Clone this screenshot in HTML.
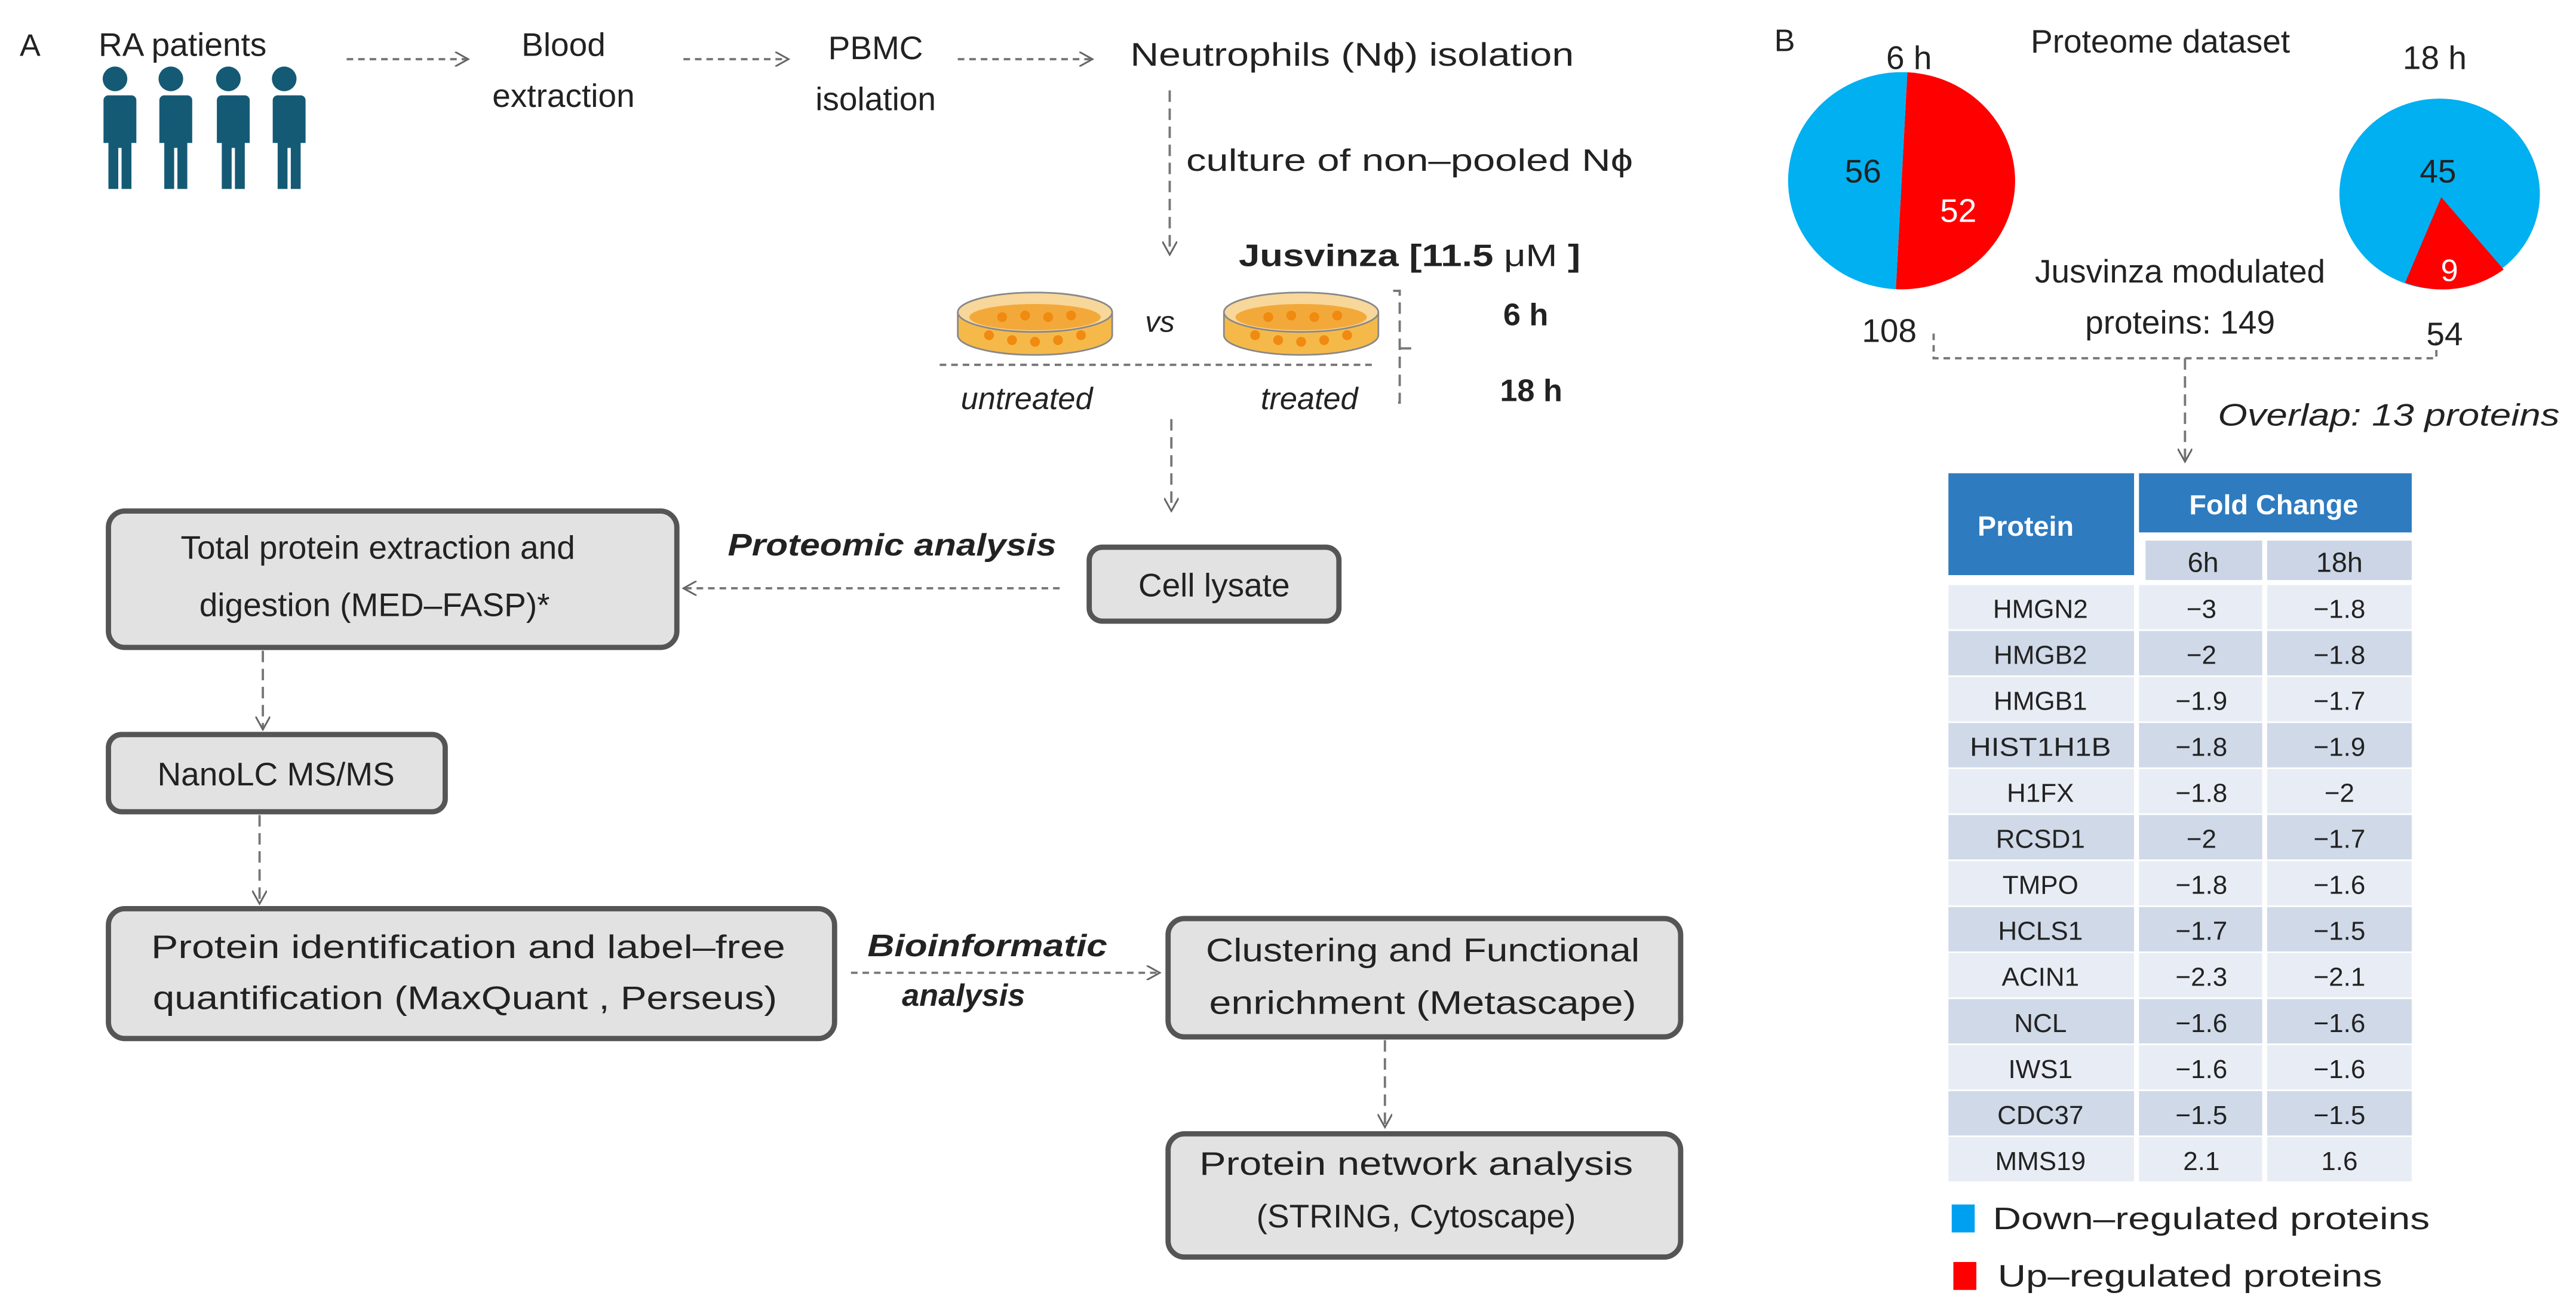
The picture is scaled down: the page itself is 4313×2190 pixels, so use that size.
<!DOCTYPE html>
<html><head><meta charset="utf-8"><style>
html,body{margin:0;padding:0;background:#fff;}
svg{display:block;}
text{font-family:"Liberation Sans",sans-serif;fill:#222;}
</style></head><body>
<svg width="4313" height="2190" viewBox="0 0 1568 796" preserveAspectRatio="none" xmlns="http://www.w3.org/2000/svg">
<defs>
<marker id="ar" viewBox="0 0 10 10" refX="9" refY="5" markerWidth="9" markerHeight="9" orient="auto" markerUnits="userSpaceOnUse">
<path d="M0,0 L9,5 L0,10" fill="none" stroke="#666" stroke-width="1.2"/></marker>
<g id="man"><circle cx="0" cy="-52" r="7.5" fill="#155a75"/><path d="M-10,-42 h20 a3,3 0 0 1 3,3 v26 h-3 v28 h-6 v-25 h-2 v25 h-6 v-28 h-3 v-26 a3,3 0 0 1 3,-3z" fill="#155a75"/></g>
<g id="dish">
<ellipse cx="0" cy="14" rx="47" ry="12" fill="#f5b94a" stroke="#888" stroke-width="1"/>
<rect x="-47" y="0" width="94" height="14" fill="#f5b94a"/>
<line x1="-47" y1="0" x2="-47" y2="14" stroke="#888"/><line x1="47" y1="0" x2="47" y2="14" stroke="#888"/>
<ellipse cx="0" cy="0" rx="47" ry="12" fill="#f8d79a" stroke="#888" stroke-width="1"/>
<ellipse cx="0" cy="3" rx="40" ry="8" fill="#f3a93a"/>
<g fill="#f08a10"><circle cx="-28" cy="14" r="3"/><circle cx="-14" cy="17" r="3"/><circle cx="0" cy="18" r="3"/><circle cx="14" cy="17" r="3"/><circle cx="28" cy="14" r="3"/><circle cx="-20" cy="3" r="3"/><circle cx="-6" cy="2" r="3"/><circle cx="8" cy="3" r="3"/><circle cx="22" cy="2" r="3"/></g>
</g>
</defs>

<text x="12" y="34" font-size="19">A</text>
<text x="60" y="34" font-size="20">RA patients</text>
<use href="#man" x="70" y="100"/><use href="#man" x="104" y="100"/><use href="#man" x="139" y="100"/><use href="#man" x="173" y="100"/>

<g stroke="#777" stroke-width="1.4" stroke-dasharray="4,3" fill="none">
<line x1="211" y1="36" x2="285" y2="36" marker-end="url(#ar)"/>
<line x1="416" y1="36" x2="480" y2="36" marker-end="url(#ar)"/>
<line x1="583" y1="36" x2="665" y2="36" marker-end="url(#ar)"/>
<line x1="712" y1="55" x2="712" y2="155" marker-end="url(#ar)" stroke-dasharray="7,4"/>
<line x1="572" y1="222" x2="836" y2="222" stroke-dasharray="4,3"/>
<path d="M848,177 h4 v68 h-4 M852,212 h8" stroke-dasharray="7,4"/>
<line x1="713" y1="255" x2="713" y2="311" marker-end="url(#ar)" stroke-dasharray="7,4"/>
<line x1="645" y1="358" x2="416" y2="358" marker-end="url(#ar)"/>
<line x1="160" y1="396" x2="160" y2="444" marker-end="url(#ar)" stroke-dasharray="7,4"/>
<line x1="158" y1="496" x2="158" y2="550" marker-end="url(#ar)" stroke-dasharray="7,4"/>
<line x1="518" y1="592" x2="706" y2="592" marker-end="url(#ar)"/>
<line x1="843" y1="633" x2="843" y2="686" marker-end="url(#ar)" stroke-dasharray="7,4"/>
<path d="M1177,203 v15 h306 v-10"/>
<line x1="1330" y1="218" x2="1330" y2="281" marker-end="url(#ar)" stroke-dasharray="7,4"/>
</g>

<text x="343" y="34" font-size="20" text-anchor="middle">Blood</text>
<text x="343" y="65" font-size="20" text-anchor="middle">extraction</text>
<text x="533" y="36" font-size="20" text-anchor="middle">PBMC</text>
<text x="533" y="67" font-size="20" text-anchor="middle">isolation</text>
<text x="688" y="40" font-size="20" textLength="270" lengthAdjust="spacingAndGlyphs">Neutrophils (Nϕ) isolation</text>
<text x="722" y="104" font-size="19" textLength="272" lengthAdjust="spacingAndGlyphs">culture of non–pooled  Nϕ</text>
<text x="754" y="162" font-size="19" font-weight="bold" textLength="208" lengthAdjust="spacingAndGlyphs">Jusvinza [11.5 <tspan font-weight="normal">μM</tspan> ]</text>

<use href="#dish" x="630" y="190"/>
<use href="#dish" x="792" y="190"/>
<text x="706" y="202" font-size="18" font-style="italic" text-anchor="middle">vs</text>
<text x="625" y="249" font-size="19" font-style="italic" text-anchor="middle">untreated</text>
<text x="797" y="249" font-size="19" font-style="italic" text-anchor="middle">treated</text>
<text x="915" y="198" font-size="19" font-weight="bold">6 h</text>
<text x="913" y="244" font-size="19" font-weight="bold">18 h</text>

<g fill="#e2e2e2" stroke="#555" stroke-width="3.2">
<rect x="66" y="311" width="346" height="83" rx="10"/>
<rect x="663" y="333" width="152" height="45" rx="8"/>
<rect x="66" y="447" width="205" height="47" rx="8"/>
<rect x="66" y="553" width="442" height="79" rx="10"/>
<rect x="711" y="559" width="312" height="72" rx="10"/>
<rect x="711" y="690" width="312" height="75" rx="10"/>
</g>
<text x="230" y="340" font-size="20" text-anchor="middle">Total protein extraction and</text>
<text x="228" y="375" font-size="20" text-anchor="middle">digestion  (MED–FASP)*</text>
<text x="443" y="338" font-size="19" font-weight="bold" font-style="italic" textLength="200" lengthAdjust="spacingAndGlyphs">Proteomic analysis</text>
<text x="739" y="363" font-size="20" text-anchor="middle">Cell lysate</text>
<text x="168" y="478" font-size="20" text-anchor="middle">NanoLC MS/MS</text>
<text x="285" y="583" font-size="20" text-anchor="middle" textLength="386" lengthAdjust="spacingAndGlyphs">Protein identification and  label–free</text>
<text x="283" y="614" font-size="20" text-anchor="middle" textLength="380" lengthAdjust="spacingAndGlyphs">quantification (MaxQuant , Perseus)</text>
<text x="528" y="582" font-size="19" font-weight="bold" font-style="italic" textLength="146" lengthAdjust="spacingAndGlyphs">Bioinformatic</text>
<text x="549" y="612" font-size="19" font-weight="bold" font-style="italic">analysis</text>
<text x="866" y="585" font-size="20" text-anchor="middle" textLength="264" lengthAdjust="spacingAndGlyphs">Clustering and Functional</text>
<text x="866" y="617" font-size="20" text-anchor="middle" textLength="260" lengthAdjust="spacingAndGlyphs">enrichment  (Metascape)</text>
<text x="862" y="715" font-size="20" text-anchor="middle" textLength="264" lengthAdjust="spacingAndGlyphs">Protein network analysis</text>
<text x="862" y="747" font-size="20" text-anchor="middle">(STRING, Cytoscape)</text>

<text x="1080" y="31" font-size="19">B</text>
<text x="1315" y="32" font-size="20" text-anchor="middle">Proteome  dataset</text>
<text x="1162" y="42" font-size="20" text-anchor="middle">6 h</text>
<text x="1482" y="42" font-size="20" text-anchor="middle">18 h</text>

<path d="M1161,44 A69,66 0 1 1 1154,176 Z" fill="#ff0000"/>
<path d="M1161,44 L1154,176 A69,66 0 1 1 1161,44 Z" fill="#00b0f0"/>
<text x="1134" y="111" font-size="20" text-anchor="middle">56</text>
<text x="1192" y="135" font-size="20" text-anchor="middle" style="fill:#fff">52</text>

<ellipse cx="1485" cy="118" rx="61" ry="58" fill="#00b0f0"/>
<path d="M1486,120 L1464,172 A61,58 0 0 0 1524,164 Z" fill="#ff0000"/>
<text x="1484" y="111" font-size="20" text-anchor="middle">45</text>
<text x="1491" y="171" font-size="19" text-anchor="middle" style="fill:#fff">9</text>

<text x="1327" y="172" font-size="20" text-anchor="middle">Jusvinza  modulated</text>
<text x="1327" y="203" font-size="20" text-anchor="middle">proteins: 149</text>
<text x="1150" y="208" font-size="20" text-anchor="middle">108</text>
<text x="1488" y="210" font-size="20" text-anchor="middle">54</text>
<text x="1350" y="259" font-size="19" font-style="italic" textLength="208" lengthAdjust="spacingAndGlyphs">Overlap: 13 proteins</text>

<rect x="1186" y="288" width="113" height="62" fill="#2e7bbf"/>
<rect x="1302" y="288" width="166" height="36" fill="#2e7bbf"/>
<rect x="1306" y="329" width="71" height="24" fill="#cbd5e6"/>
<rect x="1380" y="329" width="88" height="24" fill="#cbd5e6"/>
<text x="1233" y="326" font-size="17" font-weight="bold" text-anchor="middle" style="fill:#fff">Protein</text>
<text x="1384" y="313" font-size="17" font-weight="bold" text-anchor="middle" style="fill:#fff">Fold Change</text>
<text x="1341" y="348" font-size="17" text-anchor="middle">6h</text>
<text x="1424" y="348" font-size="17" text-anchor="middle">18h</text>
<g>
<rect x="1186" y="356" width="113" height="27" fill="#e8edf5"/><rect x="1302" y="356" width="75" height="27" fill="#e8edf5"/><rect x="1380" y="356" width="88" height="27" fill="#e8edf5"/>
<rect x="1186" y="384" width="113" height="27" fill="#cfd9e8"/><rect x="1302" y="384" width="75" height="27" fill="#cfd9e8"/><rect x="1380" y="384" width="88" height="27" fill="#cfd9e8"/>
<rect x="1186" y="412" width="113" height="27" fill="#e8edf5"/><rect x="1302" y="412" width="75" height="27" fill="#e8edf5"/><rect x="1380" y="412" width="88" height="27" fill="#e8edf5"/>
<rect x="1186" y="440" width="113" height="27" fill="#cfd9e8"/><rect x="1302" y="440" width="75" height="27" fill="#cfd9e8"/><rect x="1380" y="440" width="88" height="27" fill="#cfd9e8"/>
<rect x="1186" y="468" width="113" height="27" fill="#e8edf5"/><rect x="1302" y="468" width="75" height="27" fill="#e8edf5"/><rect x="1380" y="468" width="88" height="27" fill="#e8edf5"/>
<rect x="1186" y="496" width="113" height="27" fill="#cfd9e8"/><rect x="1302" y="496" width="75" height="27" fill="#cfd9e8"/><rect x="1380" y="496" width="88" height="27" fill="#cfd9e8"/>
<rect x="1186" y="524" width="113" height="27" fill="#e8edf5"/><rect x="1302" y="524" width="75" height="27" fill="#e8edf5"/><rect x="1380" y="524" width="88" height="27" fill="#e8edf5"/>
<rect x="1186" y="552" width="113" height="27" fill="#cfd9e8"/><rect x="1302" y="552" width="75" height="27" fill="#cfd9e8"/><rect x="1380" y="552" width="88" height="27" fill="#cfd9e8"/>
<rect x="1186" y="580" width="113" height="27" fill="#e8edf5"/><rect x="1302" y="580" width="75" height="27" fill="#e8edf5"/><rect x="1380" y="580" width="88" height="27" fill="#e8edf5"/>
<rect x="1186" y="608" width="113" height="27" fill="#cfd9e8"/><rect x="1302" y="608" width="75" height="27" fill="#cfd9e8"/><rect x="1380" y="608" width="88" height="27" fill="#cfd9e8"/>
<rect x="1186" y="636" width="113" height="27" fill="#e8edf5"/><rect x="1302" y="636" width="75" height="27" fill="#e8edf5"/><rect x="1380" y="636" width="88" height="27" fill="#e8edf5"/>
<rect x="1186" y="664" width="113" height="27" fill="#cfd9e8"/><rect x="1302" y="664" width="75" height="27" fill="#cfd9e8"/><rect x="1380" y="664" width="88" height="27" fill="#cfd9e8"/>
<rect x="1186" y="692" width="113" height="27" fill="#e8edf5"/><rect x="1302" y="692" width="75" height="27" fill="#e8edf5"/><rect x="1380" y="692" width="88" height="27" fill="#e8edf5"/>
</g>
<g font-size="16" text-anchor="middle">
<text x="1242" y="376">HMGN2</text><text x="1340" y="376">−3</text><text x="1424" y="376">−1.8</text>
<text x="1242" y="404">HMGB2</text><text x="1340" y="404">−2</text><text x="1424" y="404">−1.8</text>
<text x="1242" y="432">HMGB1</text><text x="1340" y="432">−1.9</text><text x="1424" y="432">−1.7</text>
<text x="1242" y="460" textLength="86" lengthAdjust="spacingAndGlyphs">HIST1H1B</text><text x="1340" y="460">−1.8</text><text x="1424" y="460">−1.9</text>
<text x="1242" y="488">H1FX</text><text x="1340" y="488">−1.8</text><text x="1424" y="488">−2</text>
<text x="1242" y="516">RCSD1</text><text x="1340" y="516">−2</text><text x="1424" y="516">−1.7</text>
<text x="1242" y="544">TMPO</text><text x="1340" y="544">−1.8</text><text x="1424" y="544">−1.6</text>
<text x="1242" y="572">HCLS1</text><text x="1340" y="572">−1.7</text><text x="1424" y="572">−1.5</text>
<text x="1242" y="600">ACIN1</text><text x="1340" y="600">−2.3</text><text x="1424" y="600">−2.1</text>
<text x="1242" y="628">NCL</text><text x="1340" y="628">−1.6</text><text x="1424" y="628">−1.6</text>
<text x="1242" y="656">IWS1</text><text x="1340" y="656">−1.6</text><text x="1424" y="656">−1.6</text>
<text x="1242" y="684">CDC37</text><text x="1340" y="684">−1.5</text><text x="1424" y="684">−1.5</text>
<text x="1242" y="712">MMS19</text><text x="1340" y="712">2.1</text><text x="1424" y="712">1.6</text>
</g>

<rect x="1188" y="733" width="14" height="17" fill="#00a0f0"/>
<text x="1213" y="748" font-size="19" textLength="266" lengthAdjust="spacingAndGlyphs">Down–regulated proteins</text>
<rect x="1189" y="768" width="14" height="17" fill="#ff0000"/>
<text x="1216" y="783" font-size="19" textLength="234" lengthAdjust="spacingAndGlyphs">Up–regulated proteins</text>
</svg>
</body></html>
